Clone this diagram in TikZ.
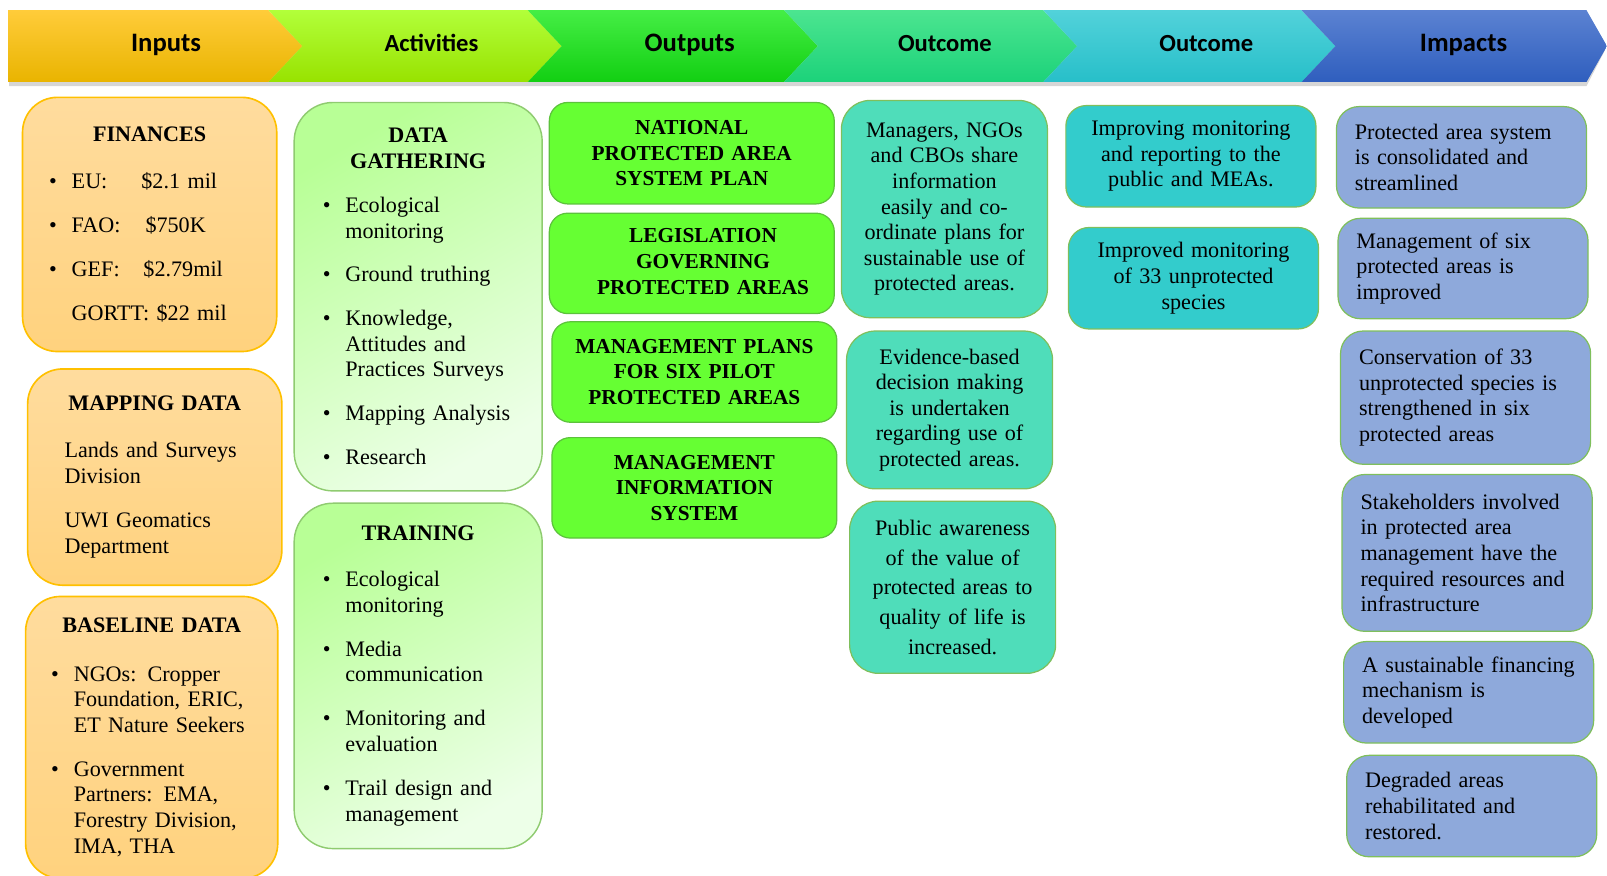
\documentclass[tikz,border=0pt]{standalone}
\usepackage{fontspec}
\setmainfont{Liberation Serif}
\newfontfamily\headfont{Carlito}
\usepackage{xcolor}
% header colours
\definecolor{inputtop}{HTML}{FFCC3A}
\definecolor{inputbot}{HTML}{E9B400}
\definecolor{activtop}{HTML}{B2FF3A}
\definecolor{activbot}{HTML}{98E200}
\definecolor{outputtop}{HTML}{45EE45}
\definecolor{outputbot}{HTML}{12CF12}
\definecolor{outcometop}{HTML}{4CE590}
\definecolor{outcomebot}{HTML}{1CD27A}
\definecolor{outcomebtop}{HTML}{52D2DA}
\definecolor{outcomebbot}{HTML}{27BFC9}
\definecolor{impacttop}{HTML}{5B82D2}
\definecolor{impactbot}{HTML}{2F5EBE}
% box colours
\definecolor{inboxtop}{HTML}{FFDC9E}
\definecolor{inboxbot}{HTML}{FFD27E}
\definecolor{inboxline}{HTML}{FFC000}
\definecolor{acboxtop}{HTML}{B8FF96}
\definecolor{acboxbot}{HTML}{EDFFE8}
\definecolor{acboxline}{HTML}{8FCB70}
\definecolor{outfill}{HTML}{66FF33}
\definecolor{outline}{HTML}{5CC23C}
\definecolor{ocfill}{HTML}{4FDDBA}
\definecolor{ocbfill}{HTML}{33CCCC}
\definecolor{impfill}{HTML}{8EA9DB}
\definecolor{greenline}{HTML}{7FBF5C}
\usepackage{tikz}
\setlength{\parindent}{0pt}
\newcommand{\bul}{\makebox[11pt][l]{\textbullet}}
\newcommand{\ind}{\hspace*{11pt}}

\begin{document}
\begin{tikzpicture}[
        x=0.5pt, y=-0.5pt,
        % --- header ---
        stagelabel/.style={
            font=\headfont\bfseries\fontsize{13}{15}\selectfont,
            inner sep=0pt
        },
        smallstage/.style={
            stagelabel, font=\headfont\bfseries\fontsize{12}{14}\selectfont
        },
        % --- column boxes ---
        inputbox/.style={
            draw=inboxline, line width=0.8pt, rounded corners=17pt,
            top color=inboxtop, bottom color=inboxbot,
            minimum width=124pt, inner xsep=13pt, inner ysep=0pt,
            text width=98pt, align=left,
            font=\fontsize{10.8}{12.5}\selectfont
        },
        activitybox/.style={
            draw=acboxline, line width=0.7pt, rounded corners=19pt,
            top color=acboxtop, bottom color=acboxbot, shading angle=30,
            minimum width=121pt, inner xsep=14pt, inner ysep=0pt,
            text width=93pt, align=left,
            font=\fontsize{10.8}{12.5}\selectfont
        },
        outputbox/.style={
            draw=outline, line width=0.6pt, rounded corners=9pt,
            fill=outfill,
            minimum width=139pt, inner xsep=4pt, inner ysep=0pt,
            text width=131pt, align=center,
            font=\bfseries\fontsize{10.4}{12.5}\selectfont
        },
        outcomebox/.style={
            draw=greenline, line width=0.6pt, rounded corners=14pt,
            fill=ocfill,
            minimum width=100.5pt, inner xsep=4pt, inner ysep=0pt,
            text width=92.5pt, align=center,
            font=\fontsize{10.8}{12.5}\selectfont
        },
        outcomebbox/.style={
            draw=greenline, line width=0.6pt, rounded corners=10pt,
            fill=ocbfill,
            minimum width=122pt, inner xsep=4pt, inner ysep=0pt,
            text width=114pt, align=center,
            font=\fontsize{10.8}{12.5}\selectfont
        },
        impactbox/.style={
            draw=greenline, line width=0.6pt, rounded corners=11pt,
            fill=impfill,
            minimum width=122pt, inner xsep=9pt, inner ysep=0pt,
            text width=104pt, align=left,
            font=\fontsize{10.8}{12.5}\selectfont
        }
    ]

    \useasboundingbox (0,0) rectangle (1568,854);
    \clip (0,0) rectangle (1568,854);

    % ============================================================
    %  Header: six chevrons, y from 10 to 80, tips 33 units deep
    % ============================================================
    \fill[black!16] (9,14) -- (1548,14) -- (1566,49) -- (1548,84) -- (9,84) -- cycle;

    \shade[top color=inputtop, bottom color=inputbot]
        (8,10) -- (262,10) -- (295,45) -- (262,80) -- (8,80) -- cycle;
    \shade[top color=activtop, bottom color=activbot]
        (262,10) -- (515,10) -- (548,45) -- (515,80) -- (262,80) -- (295,45) -- cycle;
    \shade[top color=outputtop, bottom color=outputbot]
        (515,10) -- (765,10) -- (798,45) -- (765,80) -- (515,80) -- (548,45) -- cycle;
    \shade[top color=outcometop, bottom color=outcomebot]
        (765,10) -- (1018,10) -- (1051,45) -- (1018,80) -- (765,80) -- (798,45) -- cycle;
    \shade[top color=outcomebtop, bottom color=outcomebbot]
        (1018,10) -- (1270,10) -- (1303,45) -- (1270,80) -- (1018,80) -- (1051,45) -- cycle;
    \shade[top color=impacttop, bottom color=impactbot]
        (1270,10) -- (1548,10) -- (1568,45) -- (1548,80) -- (1270,80) -- (1303,45) -- cycle;

    \node[stagelabel] (hinputs)     at (162,44)  {Inputs};
    \node[smallstage] (hactivities) at (421,42)  {Activities};
    \node[stagelabel] (houtputs)    at (673,44)  {Outputs};
    \node[smallstage] (houtcome)    at (922,42)  {Outcome};
    \node[smallstage] (houtcomeb)   at (1177,42) {Outcome};
    \node[stagelabel] (himpacts)    at (1428,44) {Impacts};

    % --- Column 1: inputs ---
    \node[inputbox, minimum height=124pt] (finances) at (146,219)
        {{\centering\bfseries FINANCES\par}\vspace{10.5pt}
         \bul\makebox[34pt][l]{EU:}\$2.1 mil\\[9pt]
         \bul\makebox[36pt][l]{FAO:}\$750K\\[9pt]
         \bul\makebox[35pt][l]{GEF:}\$2.79mil\\[9pt]
         \ind GORTT: \$22 mil\par\vspace{5pt}};

    \node[inputbox, minimum height=105.5pt, inner xsep=18pt, text width=88pt]
        (mapping) at (151,465.5)
        {{\centering\bfseries MAPPING DATA\par}\vspace{10.5pt}
         Lands and Surveys\\ Division\\[9pt]
         UWI Geomatics\\ Department\par\vspace{4pt}};

    \node[inputbox, minimum width=123pt, minimum height=137.5pt,
          inner xsep=12.5pt] (baseline) at (148,719.5)
        {{\centering\bfseries BASELINE DATA\par}\vspace{11pt}
         \bul NGOs: Cropper\\ \ind Foundation, ERIC,\\ \ind ET Nature Seekers\\[9pt]
         \bul Government\\ \ind Partners: EMA,\\ \ind Forestry Division,\\ \ind IMA, THA};

    % --- Column 2: activities ---
    \node[activitybox, minimum height=189.5pt] (gathering) at (408,289.5)
        {{\centering\bfseries DATA\\GATHERING\par}\vspace{9pt}
         \bul Ecological\\ \ind monitoring\\[8.5pt]
         \bul Ground truthing\\[9pt]
         \bul Knowledge,\\ \ind Attitudes and\\ \ind Practices Surveys\\[9pt]
         \bul Mapping Analysis\\[9pt]
         \bul Research};

    \node[activitybox, minimum height=168.5pt] (training) at (408,659.5)
        {{\centering\bfseries TRAINING\par}\vspace{10pt}
         \bul Ecological\\ \ind monitoring\\[9pt]
         \bul Media\\ \ind communication\\[9pt]
         \bul Monitoring and\\ \ind evaluation\\[9pt]
         \bul Trail design and\\ \ind management};

    % --- Column 3: outputs ---
    \node[outputbox, minimum height=49.5pt] (natplan) at (675,149.5)
        {NATIONAL\\PROTECTED AREA\\SYSTEM PLAN};
    \node[outputbox, minimum height=49pt] (legislation) at (675,257)
        {\hspace*{11pt}\begin{tabular}{@{}c@{}}LEGISLATION\\GOVERNING\\PROTECTED AREAS\end{tabular}};
    \node[outputbox, minimum height=49pt] (mgmtplans) at (677.5,363)
        {MANAGEMENT PLANS\\FOR SIX PILOT\\PROTECTED AREAS};
    \node[outputbox, minimum height=49pt] (mis) at (677.5,476)
        {MANAGEMENT\\INFORMATION\\SYSTEM};

    % --- Column 4: outcome ---
    \node[outcomebox, minimum height=106pt] (sharing) at (921.5,204)
        {Managers, NGOs\\and CBOs share\\information\\easily and co-\\ordinate plans for\\sustainable use of\\protected areas.};
    \node[outcomebox, minimum height=77pt] (evidence) at (926.5,400)
        {Evidence-based\\decision making\\is undertaken\\regarding use of\\protected areas.};
    \node[outcomebox, minimum height=84pt,
          font=\fontsize{10.8}{14.5}\selectfont] (awareness) at (929.5,573)
        {Public awareness\\of the value of\\protected areas to\\quality of life is\\increased.};

    % --- Column 5: outcome ---
    \node[outcomebbox, minimum height=49.5pt] (reporting) at (1162,152.5)
        {Improving monitoring\\and reporting to the\\public and MEAs.};
    \node[outcomebbox, minimum height=49.5pt] (speciesmon) at (1164.5,271.5)
        {Improved monitoring\\of 33 unprotected\\species};

    % --- Column 6: impacts ---
    \node[impactbox, minimum height=49.5pt] (consolidated) at (1426,153.5)
        {Protected area system\\is consolidated and\\streamlined};
    \node[impactbox, minimum height=49pt] (sixareas) at (1427.5,262)
        {Management of six\\protected areas is\\improved};
    \node[impactbox, minimum height=65pt] (conservation) at (1430,388)
        {Conservation of 33\\unprotected species is\\strengthened in six\\protected areas};
    \node[impactbox, minimum height=76.5pt] (stakeholders) at (1431.5,539.5)
        {Stakeholders involved\\in protected area\\management have the\\required resources and\\infrastructure};
    \node[impactbox, minimum height=49.5pt] (financing) at (1433,675.5)
        {A sustainable financing\\mechanism is\\developed};
    \node[impactbox, minimum height=49.5pt] (degraded) at (1436,786.5)
        {Degraded areas\\rehabilitated and\\restored.};

\end{tikzpicture}
\end{document}
